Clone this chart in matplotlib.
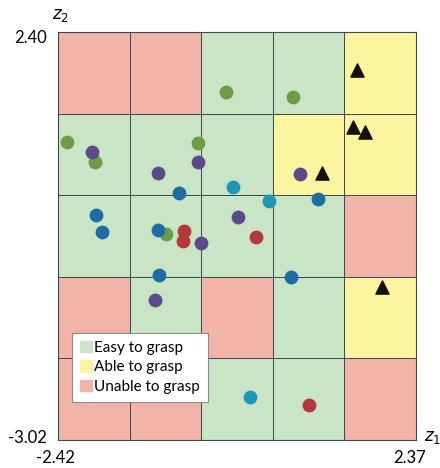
import numpy as np
import matplotlib
matplotlib.use("Agg")
import matplotlib.pyplot as plt
from matplotlib.colors import ListedColormap
from matplotlib.patches import Patch

X_MIN, X_MAX = -2.42, 2.37
Y_MIN, Y_MAX = -3.02, 2.40

# grasp category per cell, rows from top to bottom: 0 easy, 1 able, 2 unable
cells = [
    [2, 2, 0, 0, 1],
    [0, 0, 0, 1, 1],
    [0, 0, 0, 0, 2],
    [2, 0, 2, 0, 1],
    [2, 2, 0, 0, 2],
]
cat_labels = ["Easy to grasp", "Able to grasp", "Unable to grasp"]
cat_colors = ["#c9e5c6", "#fbf59f", "#f2b4a8"]

green_x = [-0.172, 0.724, -2.300, -1.925, -0.547, -0.975]
green_y = [1.603, 1.537, 0.939, 0.673, 0.925, -0.283]
purple_x = [-1.965, -0.547, -1.082, 0.818, -0.012, -0.507, -1.122]
purple_y = [0.806, 0.673, 0.527, 0.514, -0.058, -0.403, -1.160]
cyan_x = [-0.078, 0.403, 0.149]
cyan_y = [0.341, 0.155, -2.449]
blue_x = [-0.801, 1.059, -1.912, -1.831, -1.082, -1.069, 0.698]
blue_y = [0.261, 0.182, -0.031, -0.257, -0.230, -0.828, -0.855]
red_x = [-0.734, -0.748, 0.229, 0.938]
red_y = [-0.243, -0.376, -0.323, -2.555]
tri_x = [1.577, 1.531, 1.692, 1.112, 1.915]
tri_y = [1.895, 1.134, 1.072, 0.527, -0.987]

plt.rcParams["font.family"] = ["Lato", "DejaVu Sans"]

fig = plt.figure(figsize=(4.4, 4.68), dpi=100)
ax = fig.add_axes([58 / 440, 28 / 468, 358 / 440, 408 / 468])

xe = np.linspace(X_MIN, X_MAX, 6)
ye = np.linspace(Y_MAX, Y_MIN, 6)
ax.pcolormesh(xe, ye, np.array(cells), cmap=ListedColormap(cat_colors),
              vmin=-0.5, vmax=2.5, edgecolors="#3a4a50", linewidth=0.7)

ms = 80
ax.scatter(green_x, green_y, s=ms, color="#6c9c47", zorder=3)
ax.scatter(purple_x, purple_y, s=ms, color="#5b4b8c", zorder=3)
ax.scatter(cyan_x, cyan_y, s=ms, color="#1e98b6", zorder=3)
ax.scatter(blue_x, blue_y, s=ms, color="#1f6ca4", zorder=3)
ax.scatter(red_x, red_y, s=ms, color="#b3383a", zorder=3)
ax.scatter(tri_x, tri_y, s=90, marker="^", color="#111111", zorder=3)

ax.set_xlim(X_MIN, X_MAX)
ax.set_ylim(Y_MIN, Y_MAX)
ax.set_xticks([])
ax.set_yticks([])
for sp in ax.spines.values():
    sp.set_color("#3a4a50")
    sp.set_linewidth(0.8)

handles = [Patch(color=c, label=l) for c, l in zip(cat_colors, cat_labels)]
leg = ax.legend(handles=handles, loc="upper left", bbox_to_anchor=(0.04, 0.262),
                fontsize=11, frameon=True, fancybox=False, handlelength=0.8,
                handleheight=0.8, handletextpad=0.15, borderpad=0.5,
                labelspacing=0.35, borderaxespad=0)
leg.get_frame().set_edgecolor("#8a8a8a")
leg.get_frame().set_linewidth(0.8)
leg.get_frame().set_alpha(1)

fs = 12
fig.text(47 / 440, 1 - 38 / 468, f"{Y_MAX:.2f}", ha="right", va="center", fontsize=fs)
fig.text(47 / 440, 1 - 438 / 468, f"{Y_MIN:.2f}", ha="right", va="center", fontsize=fs)
fig.text(55 / 440, 1 - 458 / 468, f"{X_MIN:.2f}", ha="center", va="center", fontsize=fs)
fig.text(410 / 440, 1 - 458 / 468, f"{X_MAX:.2f}", ha="center", va="center", fontsize=fs)
fig.text(52 / 440, 1 - 16 / 468, r"$z_2$", ha="left", va="center", fontsize=12)
fig.text(424 / 440, 1 - 438 / 468, r"$z_1$", ha="left", va="center", fontsize=12)

fig.savefig("out.png", dpi=100)
